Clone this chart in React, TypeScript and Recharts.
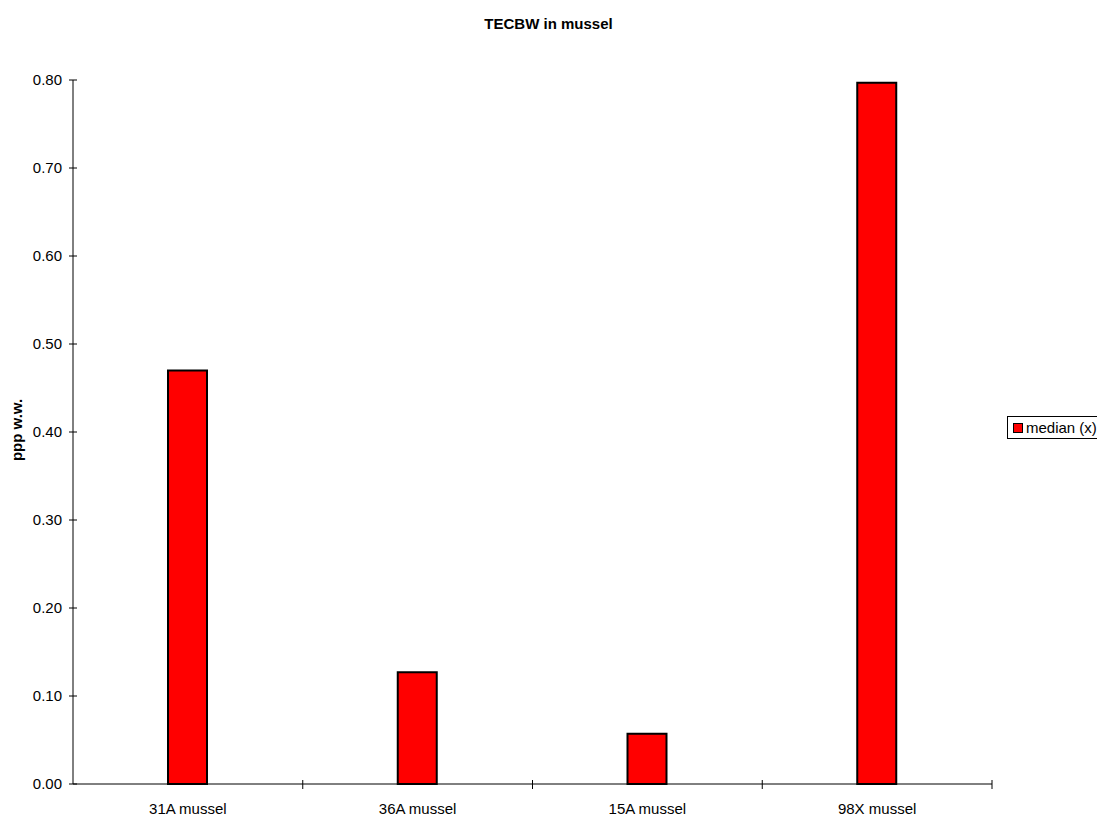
import { BarChart, Bar, XAxis, YAxis } from 'recharts'

// Stations and median concentration (ppp wet weight)
const stations = ['31A mussel', '36A mussel', '15A mussel', '98X mussel']
const medianValues = [0.47, 0.127, 0.057, 0.797]
const yTicks = [0, 0.1, 0.2, 0.3, 0.4, 0.5, 0.6, 0.7, 0.8]
const seriesName = 'median (x)'

const FONT = '"Liberation Sans", Arial, sans-serif'
const PLOT_LEFT = 73
const PLOT_RIGHT = 992
const BAND = (PLOT_RIGHT - PLOT_LEFT) / stations.length

const data = stations.map((name, i) => ({ name, median: medianValues[i] }))

// Tick mark crosses the axis line, label sits below
function XTick(props: any) {
  const { x, y, payload } = props
  return (
    <g>
      <line x1={x + BAND / 2} y1={y - 4} x2={x + BAND / 2} y2={y + 5} stroke="#000" />
      <text x={x} y={y + 30} textAnchor="middle" fontSize={15} fontFamily={FONT} fill="#000">
        {payload.value}
      </text>
    </g>
  )
}

function YTick(props: any) {
  const { x, y, payload } = props
  return (
    <g>
      <line x1={x - 4} y1={y} x2={x + 4} y2={y} stroke="#000" />
      <text x={x - 11} y={y + 5} textAnchor="end" fontSize={15} fontFamily={FONT} fill="#000">
        {payload.value.toFixed(2)}
      </text>
    </g>
  )
}

function LegendBox() {
  return (
    <div
      style={{
        position: 'absolute',
        left: 1007,
        top: 416,
        border: '1px solid #000',
        background: '#fff',
        height: 23,
        width: 100,
        display: 'flex',
        alignItems: 'center',
        fontFamily: FONT,
        fontSize: 15,
        color: '#000',
        boxSizing: 'border-box',
      }}
    >
      <span
        style={{
          display: 'inline-block',
          width: 8,
          height: 8,
          background: '#ff0000',
          border: '1px solid #000',
          marginLeft: 5,
          marginRight: 3,
        }}
      />
      {seriesName}
    </div>
  )
}

export default function App() {
  return (
    <div style={{ position: 'absolute', left: 0, top: 0, width: 1097, height: 816, background: '#fff', overflow: 'hidden' }}>
      <div
        style={{
          position: 'absolute',
          top: 15,
          left: 0,
          width: 1097,
          textAlign: 'center',
          fontFamily: FONT,
          fontWeight: 'bold',
          fontSize: 15,
        }}
      >
        TECBW in mussel
      </div>
      <div
        style={{
          position: 'absolute',
          left: 16,
          top: 430,
          transform: 'translate(-50%, -50%) rotate(-90deg)',
          fontFamily: FONT,
          fontWeight: 'bold',
          fontSize: 15,
          whiteSpace: 'nowrap',
        }}
      >
        ppp w.w.
      </div>
      <BarChart
        width={1097}
        height={816}
        data={data}
        margin={{ top: 80, right: 1097 - PLOT_RIGHT, bottom: 0, left: 0 }}
        barSize={39}
      >
        <XAxis
          dataKey="name"
          height={32}
          tickSize={0}
          tickMargin={0}
          axisLine={{ stroke: '#000' }}
          tick={<XTick />}
          interval={0}
        />
        <YAxis
          width={PLOT_LEFT}
          domain={[0, 0.8]}
          ticks={yTicks}
          tickSize={0}
          tickMargin={0}
          axisLine={{ stroke: '#000' }}
          tick={<YTick />}
          interval={0}
        />
        <Bar dataKey="median" name={seriesName} fill="#ff0000" stroke="#000" strokeWidth={2} isAnimationActive={false} />
      </BarChart>
      <LegendBox />
    </div>
  )
}
